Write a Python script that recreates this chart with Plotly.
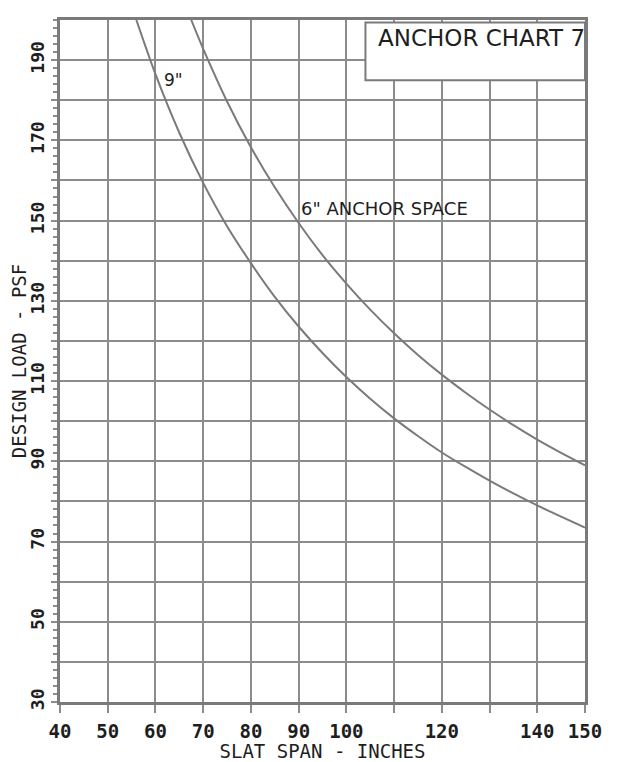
import plotly.graph_objects as go

# Curve data (slat span in inches -> design load in PSF)
span_9in = [56, 60, 65, 70, 75, 80, 85, 90, 95, 100, 105, 110, 115, 120, 125, 130, 135, 140, 145, 150]
load_9in = [200, 186.5, 171.9, 159.4, 148.6, 139.4, 131.0, 123.6, 117.0, 111.0, 105.6, 100.7, 96.3, 92.2, 88.6, 85.2, 82.0, 79.0, 76.2, 73.5]

span_6in = [67.5, 70, 75, 80, 85, 90, 95, 100, 105, 110, 115, 120, 125, 130, 135, 140, 145, 150]
load_6in = [200, 192.8, 179.7, 168.3, 158.3, 149.4, 141.4, 134.3, 127.8, 121.9, 116.5, 111.6, 107.1, 102.9, 99.0, 95.4, 92.1, 89.0]

x_tick_vals = [40, 50, 60, 70, 80, 90, 100, 110, 120, 130, 140, 150]
x_tick_text = ["40", "50", "60", "70", "80", "90", "100", "", "120", "", "140", "150"]
y_tick_vals = [30, 40, 50, 60, 70, 80, 90, 100, 110, 120, 130, 140, 150, 160, 170, 180, 190]
y_tick_text = ["30", "", "50", "", "70", "", "90", "", "110", "", "130", "", "150", "", "170", "", "190"]

LINE = "#7a7a7a"
GRID = "#8c8c8c"
TXT = "#1e1e1e"
MONO = "DejaVu Sans Mono"
SANS = "DejaVu Sans"

fig = go.Figure()
fig.add_trace(go.Scatter(x=span_9in, y=load_9in, mode="lines",
                         line=dict(color=LINE, width=2, shape="spline", smoothing=0.8),
                         showlegend=False, hoverinfo="skip"))
fig.add_trace(go.Scatter(x=span_6in, y=load_6in, mode="lines",
                         line=dict(color=LINE, width=2, shape="spline", smoothing=0.8),
                         showlegend=False, hoverinfo="skip"))

fig.update_layout(
    width=613, height=754,
    margin=dict(l=52, r=36, t=12, b=60),
    paper_bgcolor="white", plot_bgcolor="white",
    showlegend=False,
    xaxis=dict(
        range=[40, 150], tickmode="array", tickvals=x_tick_vals, ticktext=x_tick_text,
        automargin=False,
        showgrid=True, gridcolor=GRID, gridwidth=1.6,
        showline=True, linecolor=LINE, linewidth=2.5, mirror=True,
        ticks="outside", ticklen=8, tickcolor=GRID, tickwidth=1.5,
        ticklabelstandoff=2,
        tickfont=dict(family=MONO, size=19, color=TXT, weight="bold"),
        title=dict(text="SLAT SPAN - INCHES", standoff=4,
                   font=dict(family=MONO, size=19, color=TXT)),
        zeroline=False,
    ),
    yaxis=dict(
        range=[30, 200], tickmode="array", tickvals=y_tick_vals, ticktext=y_tick_text,
        automargin=False,
        showgrid=True, gridcolor=GRID, gridwidth=1.6,
        showline=True, linecolor=LINE, linewidth=2.5, mirror=True,
        ticks="outside", ticklen=6, tickcolor=GRID, tickwidth=1.5,
        tickangle=-90, ticklabelstandoff=0,
        tickfont=dict(family=MONO, size=18, color=TXT, weight="bold"),
        minor=dict(tickmode="linear", tick0=30, dtick=2, ticks="outside",
                   ticklen=4, tickcolor=GRID, showgrid=False),
        title=dict(text="DESIGN LOAD - PSF", standoff=2,
                   font=dict(family=MONO, size=19, color=TXT)),
        zeroline=False,
    ),
    shapes=[
        dict(type="rect", xref="x", yref="y", x0=104, x1=150, y0=185, y1=199.4,
             fillcolor="white", line=dict(color=LINE, width=2), layer="above"),
    ],
    annotations=[
        dict(x=106.3, y=195.6, xref="x", yref="y", text="ANCHOR CHART 7",
             showarrow=False, xanchor="left", yanchor="middle",
             font=dict(family=SANS, size=23, color=TXT)),
        dict(x=61.3, y=185, xref="x", yref="y", text='9"',
             showarrow=False, xanchor="left", yanchor="middle",
             font=dict(family=SANS, size=17, color=TXT)),
        dict(x=90, y=153, xref="x", yref="y", text='6" ANCHOR SPACE',
             showarrow=False, xanchor="left", yanchor="middle",
             font=dict(family=SANS, size=18, color=TXT)),
    ],
)

fig.write_html("out.html")
